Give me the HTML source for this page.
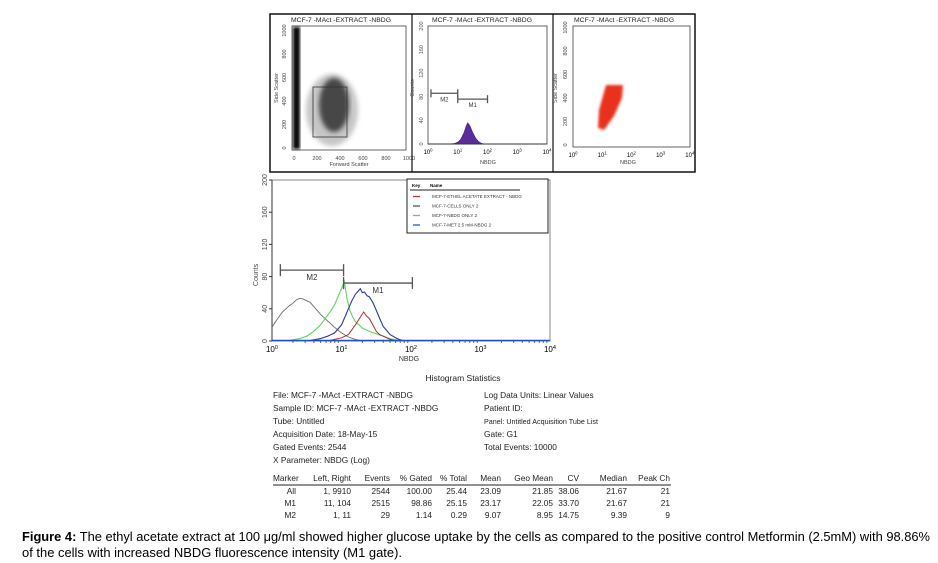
<!DOCTYPE html>
<html><head><meta charset="utf-8"><style>
html,body{margin:0;padding:0;background:#fff;}
svg{display:block;font-family:"Liberation Sans",Arial,sans-serif;}
</style></head><body>
<svg id="fig" width="938" height="563" viewBox="0 0 938 563">
<g id="top"></g>
<g id="main"></g>
<g id="stats"></g>
<text x="22" y="541" font-size="13" textLength="908" lengthAdjust="spacingAndGlyphs"><tspan font-weight="bold">Figure 4:</tspan> The ethyl acetate extract at 100 μg/ml showed higher glucose uptake by the cells as compared to the positive control Metformin (2.5mM) with 98.86%</text>
<text x="22" y="557" font-size="13" textLength="380" lengthAdjust="spacingAndGlyphs">of the cells with increased NBDG fluorescence intensity (M1 gate).</text>
</svg>
<script>
// ---- data: main overlay histogram (x in log10 NBDG, y in counts) ----
const grayX=[0,0.05,0.1,0.15,0.2,0.25,0.3,0.35,0.4,0.45,0.5,0.55,0.6,0.65,0.7,0.75,0.8,0.85,0.9,1.0,1.1,1.2,1.3];
const grayY=[17,24,30,36,40,44,47,51,53,52,50,48,43,38,33,29,25,21,17,10,5,2,0];
const greenX=[0.2,0.4,0.5,0.6,0.7,0.8,0.85,0.9,0.95,1.0,1.04,1.08,1.12,1.16,1.2,1.3,1.4,1.5,1.6,1.7,1.8,1.9];
const greenY=[0,3,6,12,20,32,38,45,55,65,74,52,38,30,24,16,12,9,6,3,1,0];
const blueX=[0.5,0.7,0.8,0.9,1.0,1.05,1.1,1.15,1.2,1.27,1.3,1.33,1.37,1.4,1.45,1.5,1.55,1.6,1.7,1.8,1.9];
const blueY=[0,3,6,10,20,30,40,50,58,65,60,61,56,55,48,38,28,18,8,3,0];
const redX=[0.8,0.9,1.0,1.1,1.15,1.2,1.25,1.32,1.36,1.4,1.45,1.5,1.55,1.6,1.7,1.8];
const redY=[0,2,4,8,14,20,27,36,31,28,20,12,8,6,2,0];
// ---- data: small histogram panel ----
const purpX=[0.7,0.9,1.0,1.1,1.2,1.28,1.33,1.4,1.5,1.6,1.7,1.8,1.9];
const purpY=[0,1,3,8,18,30,36,32,20,10,4,1,0];
const yTicks=[0,40,80,120,160,200];
const xDecades=[0,1,2,3,4];
const legendNames=["MCF-7-ETHEL ACETATE EXTRACT - NBDG","MCF-7-CELLS ONLY 2","MCF-7-NBDG ONLY 2","MCF-7-MET 2.5 mM-NBDG 2"];
const legendColors=["#c0392b","#555555","#5fd35f","#1f5fbf"];
const statsHeader=["Marker","Left, Right","Events","% Gated","% Total","Mean","Geo Mean","CV","Median","Peak Ch"];
const statsRows=[["All","1, 9910","2544","100.00","25.44","23.09","21.85","38.06","21.67","21"],
["M1","11, 104","2515","98.86","25.15","23.17","22.05","33.70","21.67","21"],
["M2","1, 11","29","1.14","0.29","9.07","8.95","14.75","9.39","9"]];
const NS="http://www.w3.org/2000/svg";
function mk(parent,tag,attrs,txt){const e=document.createElementNS(NS,tag);for(const k in attrs)e.setAttribute(k,attrs[k]);if(txt!==undefined)e.textContent=txt;parent.appendChild(e);return e;}
function supLabel(g,x,y,d,fs){const t=mk(g,'text',{x:x,y:y,'font-size':fs,'text-anchor':'middle'});
 
 
 mk(t,'tspan',{},'10');mk(t,'tspan',{dy:-fs*0.4,'font-size':fs*0.7},String(d));}
function line(g,xs,ys,sx,sy,col,w,name){let d='';xs.forEach((v,i)=>{d+=(i?'L':'M')+sx(v).toFixed(1)+','+sy(ys[i]).toFixed(1);});
 const p=mk(g,'path',{d:d,fill:'none',stroke:col,'stroke-width':w});
 
 return p;}

// ===== MAIN HISTOGRAM =====
const M=document.getElementById('main');
const mx0=272,mx1=550,my0=341,my1=180;
const msx=v=>mx0+v*(mx1-mx0)/4, msy=c=>my0-c*(my0-my1)/200;
let r=mk(M,'rect',{x:mx0,y:my1,width:mx1-mx0,height:my0-my1,fill:'none',stroke:'#888','stroke-width':1});

mk(M,'line',{x1:mx0,y1:my1,x2:mx0,y2:my0,stroke:'#333'});
yTicks.forEach(t=>{const y=msy(t);mk(M,'line',{x1:mx0-3,y1:y,x2:mx0,y2:y,stroke:'#333'});
 const tx=mk(M,'text',{x:0,y:0,'font-size':7,'text-anchor':'middle',fill:'#444',transform:`translate(${mx0-5},${y}) rotate(-90)`},String(t));
 });
const cl=mk(M,'text',{x:0,y:0,'font-size':7,'text-anchor':'middle',fill:'#444',transform:'translate(258,275) rotate(-90)'},'Counts');

xDecades.forEach(d=>{supLabel(M,msx(d),352,d,8);});
for(let d=0;d<4;d++)for(let k=2;k<10;k++){const x=msx(d+Math.log10(k));mk(M,'line',{x1:x,y1:my0,x2:x,y2:my0+2,stroke:'#666'});}
const xl=mk(M,'text',{x:409,y:361,'font-size':7,'text-anchor':'middle',fill:'#333'},'NBDG');

line(M,grayX,grayY,msx,msy,'#6b6b6b',0.9,'series-cells-only');
line(M,greenX,greenY,msx,msy,'#5fd35f',1.1,'series-nbdg-only');
line(M,blueX,blueY,msx,msy,'#2a3a9a',1.1,'series-met');
line(M,redX,redY,msx,msy,'#b03030',1,'series-extract');
mk(M,'line',{x1:mx0,y1:my0-0.5,x2:mx1,y2:my0-0.5,stroke:'#2050c0','stroke-width':1.5});
function marker(g,l,rr,c,sx,sy,lab,name,fs,h){const y=sy(c);const gg=mk(g,'g',{});
 
 mk(gg,'line',{x1:sx(l),y1:y,x2:sx(rr),y2:y,stroke:'#555','stroke-width':1.3});
 mk(gg,'line',{x1:sx(l),y1:y-h,x2:sx(l),y2:y+h,stroke:'#555','stroke-width':1.3});
 mk(gg,'line',{x1:sx(rr),y1:y-h,x2:sx(rr),y2:y+h,stroke:'#555','stroke-width':1.3});
 mk(gg,'text',{x:(sx(l)+sx(rr))/2,y:y+fs+2,'font-size':fs,'text-anchor':'middle',fill:'#333'},lab);}
marker(M,0.12,1.03,88,msx,msy,'M2','marker-m2',8,6);
marker(M,1.03,2.02,72,msx,msy,'M1','marker-m1',8,6);
const L=mk(M,'g',{});
mk(L,'rect',{x:407,y:179,width:141,height:54,fill:'#fff',stroke:'#222','stroke-width':1});
mk(L,'text',{x:412,y:187,'font-size':4.5,'font-weight':'bold'},'Key');
mk(L,'text',{x:430,y:187,'font-size':4.5,'font-weight':'bold'},'Name');
mk(L,'line',{x1:410,y1:190,x2:520,y2:190,stroke:'#222'});
legendNames.forEach((n,i)=>{const y=198+i*9.5;const e=mk(L,'g',{});
 
 mk(e,'line',{x1:413,y1:y-1.5,x2:420,y2:y-1.5,stroke:legendColors[i],'stroke-width':1.3});
 mk(e,'text',{x:432,y:y,'font-size':4.5,fill:'#333'},n);});

// ===== TOP PANELS =====
const T=document.getElementById('top');
const fr=mk(T,'rect',{x:270,y:14,width:425,height:158,fill:'none',stroke:'#111','stroke-width':1.5});

mk(T,'line',{x1:412,y1:14,x2:412,y2:172,stroke:'#111','stroke-width':1.2});
mk(T,'line',{x1:553,y1:14,x2:553,y2:172,stroke:'#111','stroke-width':1.2});
const titles=[[341,'scatter-title'],[482,'histogram-title'],[624,'dotplot-title']];
titles.forEach(([x,n])=>{const t=mk(T,'text',{x:x,y:22,'font-size':6,'text-anchor':'middle',fill:'#222',textLength:100,lengthAdjust:'spacingAndGlyphs'},'MCF-7 -MAct -EXTRACT -NBDG');
 });
const p1=mk(T,'g',{});
mk(p1,'rect',{x:292,y:26,width:114,height:124,fill:'none',stroke:'#666'});
const defs=mk(T,'defs',{});const fb=mk(defs,'filter',{id:'blur'});mk(fb,'feGaussianBlur',{stdDeviation:2.5});
const fb2=mk(defs,'filter',{id:'blur2'});mk(fb2,'feGaussianBlur',{stdDeviation:1.2});
mk(p1,'rect',{x:293,y:27,width:7,height:122,fill:'#111',filter:'url(#blur2)'});
mk(p1,'ellipse',{cx:332,cy:110,rx:26,ry:36,fill:'#999',filter:'url(#blur)',opacity:0.55});
mk(p1,'ellipse',{cx:334,cy:105,rx:15,ry:27,fill:'#333',filter:'url(#blur)',opacity:0.85});
mk(p1,'rect',{x:313,y:87,width:34,height:50,fill:'none',stroke:'#333','stroke-width':0.8});
[0,200,400,600,800,1000].forEach((v,i)=>{const y=148-i*23.5;mk(p1,'text',{x:0,y:0,'font-size':5.5,'text-anchor':'middle',fill:'#444',transform:`translate(286,${y}) rotate(-90)`},String(v));
 const x=294+i*23;mk(p1,'text',{x:x,y:160,'font-size':5.5,'text-anchor':'middle',fill:'#444'},String(v));});
mk(p1,'text',{x:349,y:166,'font-size':5.5,'text-anchor':'middle',fill:'#444'},'Forward Scatter');
mk(p1,'text',{x:0,y:0,'font-size':5.5,'text-anchor':'middle',fill:'#444',transform:'translate(278,88) rotate(-90)'},'Side Scatter');
const p2=mk(T,'g',{});
const hx0=428,hx1=547,hy0=144,hy1=26;
const hsx=v=>hx0+v*(hx1-hx0)/4,hsy=c=>hy0-c*(hy0-hy1)/200;
mk(p2,'rect',{x:hx0,y:hy1,width:hx1-hx0,height:hy0-hy1,fill:'none',stroke:'#666'});
let d='M'+hsx(purpX[0])+','+hsy(0);purpX.forEach((v,i)=>{d+='L'+hsx(v).toFixed(1)+','+hsy(purpY[i]).toFixed(1);});d+='Z';
const pp=mk(p2,'path',{d:d,fill:'#5a2d9c',stroke:'#4a1d8c','stroke-width':0.6});

mk(p2,'line',{x1:hx0,y1:hy0,x2:hx1,y2:hy0,stroke:'#333'});
yTicks.forEach(t=>{mk(p2,'text',{x:0,y:0,'font-size':5.5,'text-anchor':'middle',fill:'#555',transform:`translate(${hx0-5},${hsy(t)}) rotate(-90)`},String(t));});
mk(p2,'text',{x:0,y:0,'font-size':5.5,'text-anchor':'middle',fill:'#555',transform:'translate(414,88) rotate(-90)'},'Counts');
xDecades.forEach(dd=>supLabel(p2,hsx(dd),154,dd,6));
mk(p2,'text',{x:488,y:164,'font-size':5.5,'text-anchor':'middle',fill:'#444'},'NBDG');
marker(p2,0.1,1.0,86,hsx,hsy,'M2','small-marker-m2',6,4);
marker(p2,1.0,2.0,76,hsx,hsy,'M1','small-marker-m1',6,4);
const p3=mk(T,'g',{});
mk(p3,'rect',{x:573,y:26,width:117,height:121,fill:'none',stroke:'#666'});
mk(p3,'path',{d:'M606,85 L623,85 L622,98 L614,116 L604,130 L598,128 L599,110 Z',fill:'#e8321e',filter:'url(#blur2)'});
[0,200,400,600,800,1000].forEach((v,i)=>{const y=145-i*23.5;mk(p3,'text',{x:0,y:0,'font-size':5.5,'text-anchor':'middle',fill:'#444',transform:`translate(567,${y}) rotate(-90)`},String(v));});
mk(p3,'text',{x:0,y:0,'font-size':5.5,'text-anchor':'middle',fill:'#444',transform:'translate(557,88) rotate(-90)'},'Side Scatter');
xDecades.forEach(dd=>supLabel(p3,573+dd*29.2,157,dd,6));
mk(p3,'text',{x:628,y:164,'font-size':5.5,'text-anchor':'middle',fill:'#444'},'NBDG');

// ===== STATS =====
const S=document.getElementById('stats');
const st=mk(S,'text',{x:463,y:381,'font-size':8.5,'text-anchor':'middle',fill:'#222'},'Histogram Statistics');

const leftInfo=['File: MCF-7 -MAct -EXTRACT -NBDG','Sample ID: MCF-7 -MAct -EXTRACT -NBDG','Tube: Untitled','Acquisition Date: 18-May-15','Gated Events: 2544','X Parameter: NBDG (Log)'];
const rightInfo=['Log Data Units: Linear Values','Patient ID:','Panel: Untitled Acquisition Tube List','Gate: G1','Total Events: 10000'];
leftInfo.forEach((s,i)=>{const t=mk(S,'text',{x:273,y:398+i*13,'font-size':8.3,fill:'#222'},s);});
rightInfo.forEach((s,i)=>{const a={x:484,y:398+i*13,'font-size':8.3,fill:'#222'};if(i==2){a['font-size']=7.5;a.textLength=114;a.lengthAdjust='spacingAndGlyphs';}
 const t=mk(S,'text',a,s);});
const colR=[296,351,390,432,467,501,553,579,627,670];
statsHeader.forEach((h,i)=>{const a=i==0?{x:273,'text-anchor':'start'}:{x:colR[i],'text-anchor':'end'};a.y=481;a['font-size']=8.3;a.fill='#222';
 const t=mk(S,'text',a,h);});
mk(S,'line',{x1:273,y1:485,x2:671,y2:485,stroke:'#222','stroke-width':1});
statsRows.forEach((row,ri)=>row.forEach((v,i)=>{const t=mk(S,'text',{x:colR[i],y:494+ri*12,'font-size':8.3,'text-anchor':'end',fill:'#222'},v);
 }));
</script>
</body></html>
